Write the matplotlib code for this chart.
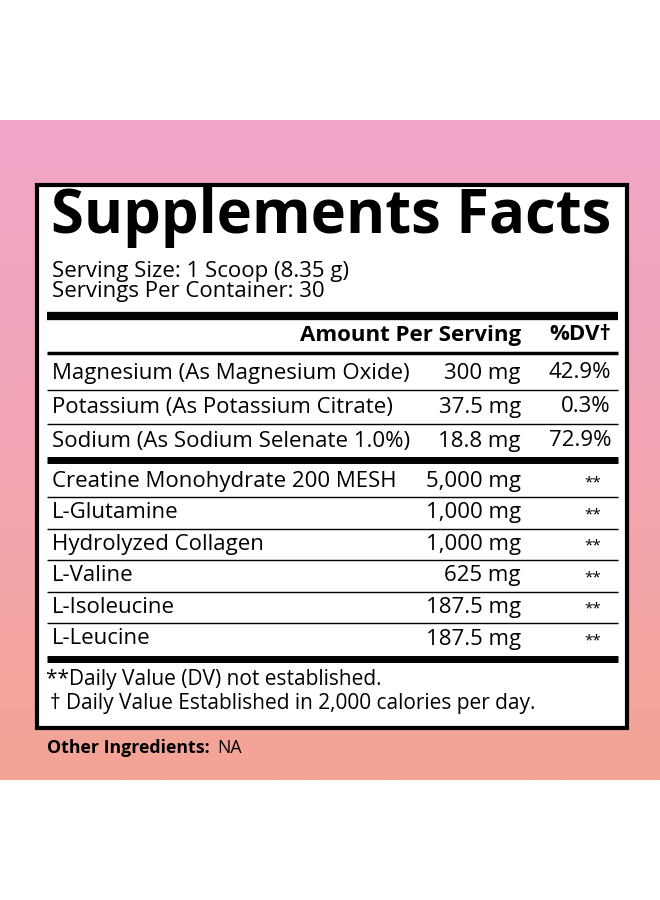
import numpy as np
import matplotlib
matplotlib.use("Agg")
import matplotlib.pyplot as plt
from matplotlib.colors import LinearSegmentedColormap

plt.rcParams["font.family"] = ["Open Sans", "DejaVu Sans"]

title = "Supplements Facts"
serving = ["Serving Size: 1 Scoop (8.35 g)", "Servings Per Container: 30"]
minerals = ["Magnesium (As Magnesium Oxide)", "Potassium (As Potassium Citrate)",
            "Sodium (As Sodium Selenate 1.0%)"]
mineral_amt = ["300 mg", "37.5 mg", "18.8 mg"]
mineral_dv = ["42.9%", "0.3%", "72.9%"]
others = ["Creatine Monohydrate 200 MESH", "L-Glutamine", "Hydrolyzed Collagen",
          "L-Valine", "L-Isoleucine", "L-Leucine"]
other_amt = ["5,000 mg", "1,000 mg", "1,000 mg", "625 mg", "187.5 mg", "187.5 mg"]
notes = ["**Daily Value (DV) not established.",
         "\u2020 Daily Value Established in 2,000 calories per day."]

fig = plt.figure(figsize=(6.6, 9), dpi=100)
ax = fig.add_axes([0, 0, 1, 1])
ax.set_xlim(0, 660); ax.set_ylim(900, 0); ax.axis("off")

# pink gradient band
cmap = LinearSegmentedColormap.from_list("bg", ["#f2a5c9", "#f3a4b4", "#f4a594"])
ax.imshow(np.linspace(0, 1, 256)[:, None], cmap=cmap, aspect="auto",
          extent=(0, 660, 780, 120), zorder=0)

# white box
ax.add_patch(plt.Rectangle((37, 185), 590, 543, fc="white", ec="black", lw=3, zorder=1))

K = dict(color="black", zorder=3)
FS = 16
ax.text(331, 218, title, fontsize=43, fontweight="bold", ha="center", va="center", **K)
for i, s in enumerate(serving):
    ax.text(52, 271 + 21 * i, s, fontsize=FS, va="center", **K)

def hline(y, w):
    ax.plot([47, 618], [y, y], color="black", lw=w, zorder=2, solid_capstyle="butt")

hline(316, 6)
ax.text(521, 335, "Amount Per Serving", fontsize=FS, fontweight="bold", ha="right", va="center", **K)
ax.text(611, 335, "%DV\u2020", fontsize=FS, fontweight="bold", ha="right", va="center", **K)
hline(353, 2.5)

for i, (n, a, d) in enumerate(zip(minerals, mineral_amt, mineral_dv)):
    y = 373 + 34 * i
    ax.text(52, y, n, fontsize=FS, va="center", **K)
    ax.text(521, y, a, fontsize=FS, ha="right", va="center", **K)
    ax.text(611, y, d, fontsize=FS, ha="right", va="center", **K)
    if i < 2:
        hline(y + 17, 1)
hline(460, 5)

for i, (n, a) in enumerate(zip(others, other_amt)):
    y = 481 + 31.6 * i
    ax.text(52, y, n, fontsize=FS, va="center", **K)
    ax.text(521, y, a, fontsize=FS, ha="right", va="center", **K)
    ax.text(593, y + 2, "**", fontsize=11, ha="center", va="center", **K)
    if i < 5:
        hline(y + 16, 1)
hline(659, 5)

ax.text(46, 679, notes[0], fontsize=15, va="center", **K)
ax.text(50, 704, notes[1], fontsize=15, va="center", **K)

ax.text(47, 748, "Other Ingredients:", fontsize=12.8, fontweight="bold", va="center", **K)
ax.text(217, 748, "NA", fontsize=12.8, va="center", **K)

fig.savefig("out.png", dpi=100)
